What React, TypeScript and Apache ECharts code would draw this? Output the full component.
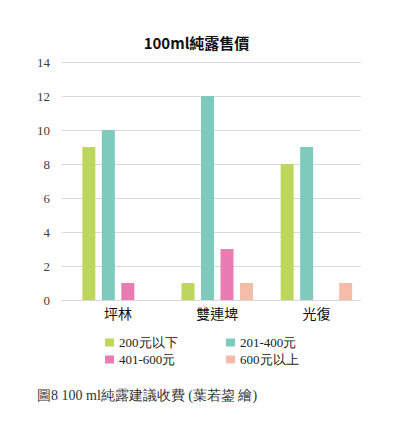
import React, { useEffect, useRef } from "react";
import * as echarts from "echarts";

const categories = ["坪林", "雙連埤", "光復"];
const seriesNames = ["200元以下", "201-400元", "401-600元", "600元以上"];
const below200 = [9, 1, 8];
const from201to400 = [10, 12, 9];
const from401to600 = [1, 3, 0];
const above600 = [0, 1, 1];
const seriesColors = ["#BDD75E", "#7ECBBE", "#E87DB4", "#F6BCAA"];
const yTicks = { min: 0, max: 14, interval: 2 };

const titleText = "100ml純露售價";
const captionText = "圖8 100 ml純露建議收費 (葉若鋆 繪)";

const serif = "'Times New Roman', 'Liberation Serif', serif";
const cjk = "'Noto Sans CJK TC', sans-serif";

export default function App() {
  const ref = useRef<HTMLDivElement>(null);
  useEffect(() => {
    if (!ref.current) return;
    const chart = echarts.init(ref.current, undefined, { renderer: "svg" });
    const values = [below200, from201to400, from401to600, above600];
    const legendBase = {
      orient: "vertical",
      top: 331,
      itemWidth: 9,
      itemHeight: 8,
      itemGap: 4,
      icon: "rect",
      textStyle: { fontFamily: serif, fontSize: 13, color: "#222" },
    };
    chart.setOption({
      animation: false,
      backgroundColor: "#ffffff",
      textStyle: { fontFamily: serif },
      title: {
        text: titleText,
        left: "center",
        top: 30,
        textStyle: { fontFamily: cjk, fontSize: 15, fontWeight: 600, color: "#111" },
      },
      grid: [
        { left: 62, top: 62, width: 299, height: 238 },
        { left: 68.5, top: 62, width: 297.5, height: 238 },
      ],
      xAxis: [
        { type: "category", gridIndex: 0, data: categories, show: false },
        {
          type: "category",
          gridIndex: 1,
          data: categories,
          axisLine: { show: false },
          axisTick: { show: false },
          axisLabel: { fontFamily: cjk, fontSize: 14, color: "#111", margin: 6 },
        },
      ],
      yAxis: [
        {
          type: "value",
          gridIndex: 0,
          ...yTicks,
          axisLine: { show: false },
          axisTick: { show: false },
          axisLabel: { fontFamily: serif, fontSize: 13, color: "#404040", margin: 12 },
          splitLine: { lineStyle: { color: "#D9D9D9", width: 1 } },
        },
        { type: "value", gridIndex: 1, ...yTicks, show: false, splitLine: { show: false } },
      ],
      legend: [
        { ...legendBase, left: 100, data: [seriesNames[0], seriesNames[2]] },
        { ...legendBase, left: 221, data: [seriesNames[1], seriesNames[3]] },
      ],
      series: seriesNames.map((name, i) => ({
        name,
        type: "bar",
        xAxisIndex: 1,
        yAxisIndex: 1,
        data: values[i],
        barWidth: 13,
        barGap: "50%",
        itemStyle: { color: seriesColors[i] },
      })),
      graphic: [
        {
          type: "text",
          left: 37,
          top: 388,
          style: { text: captionText, font: "14px " + serif, fill: "#333" },
        },
      ],
    });
    return () => chart.dispose();
  }, []);
  return (
    <div
      ref={ref}
      style={{ position: "fixed", left: 0, top: 0, width: 393, height: 431 }}
    />
  );
}
